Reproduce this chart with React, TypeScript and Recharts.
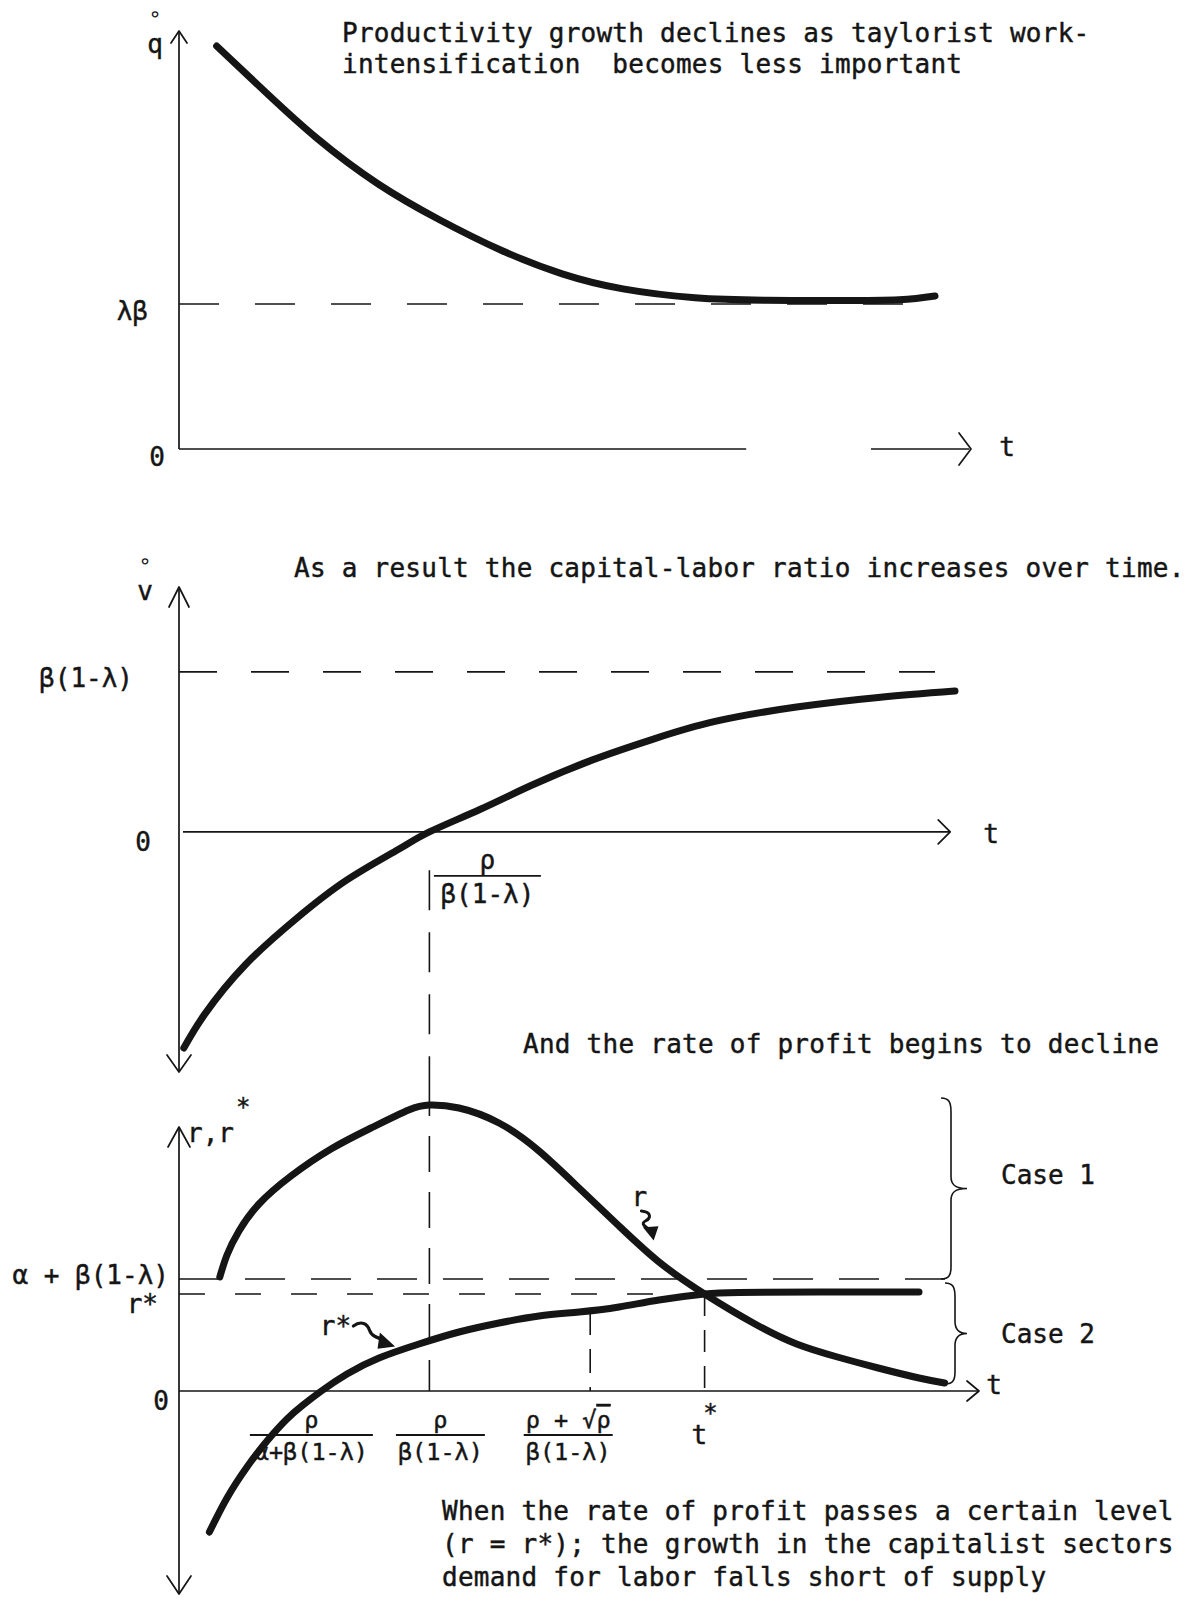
import React from 'react';
import { LineChart, Line, XAxis, YAxis, ReferenceLine, ReferenceDot, ReferenceArea } from 'recharts';

const FONT = '"DejaVu Sans Mono", "Liberation Mono", monospace';
const INK = '#151515';
const PAGE_W = 1192;
const PAGE_H = 1601;
const T_DOMAIN: [number, number] = [0, 10];

// ---------- Panel 1: productivity growth q̊ over time ----------
const qTime = [0.47, 1.08, 1.72, 2.49, 3.25, 4.02, 4.79, 5.55, 6.45, 7.34, 8.23, 9.0, 9.45];
const qGrowth = [9.64, 8.54, 7.44, 6.34, 5.49, 4.76, 4.19, 3.83, 3.62, 3.56, 3.55, 3.57, 3.66];
const LAMBDA_BETA = 3.47;
const qTickValues = [0, LAMBDA_BETA];
const qTickLabels = ['0', 'λβ'];

// ---------- Panel 2: growth of the capital-labor ratio v̊ ----------
const vTime = [0.06, 0.32, 0.83, 1.47, 2.1, 2.74, 3.13, 3.76, 4.4, 5.17, 5.93, 6.7, 7.72, 8.74, 9.7];
const vGrowth = [-1.35, -1.14, -0.83, -0.54, -0.3, -0.11, 0, 0.14, 0.29, 0.45, 0.58, 0.69, 0.78, 0.84, 0.88];
const BETA_ONE_MINUS_LAMBDA = 1;
const vTickValues = [0, BETA_ONE_MINUS_LAMBDA];
const vTickLabels = ['0', 'β(1-λ)'];

// ---------- Panel 3: rate of profit r and threshold r* ----------
const rTime = [0.51, 0.6, 0.75, 1.0, 1.4, 1.9, 2.4, 2.87, 3.13, 3.5, 4.0, 4.5, 5.0, 5.5, 6.0, 6.57, 7.2, 7.72, 8.23, 8.74, 9.25, 9.57];
const rValue = [1.14, 1.36, 1.6, 1.87, 2.15, 2.42, 2.63, 2.81, 2.86, 2.83, 2.68, 2.4, 2.03, 1.65, 1.29, 0.97, 0.67, 0.47, 0.34, 0.23, 0.13, 0.08];
const rStarTime = [0.38, 0.6, 0.85, 1.1, 1.35, 1.55, 1.78, 2.1, 2.5, 3.0, 3.5, 4.0, 4.5, 5.0, 5.5, 6.0, 6.57, 7.0, 8.0, 9.25];
const rStarValue = [-1.41, -1.07, -0.76, -0.5, -0.28, -0.14, 0, 0.17, 0.33, 0.47, 0.59, 0.68, 0.75, 0.79, 0.84, 0.91, 0.97, 0.985, 0.99, 0.99];
const ALPHA_PLUS_BETA = 1.12;
const R_STAR = 0.97;
const rTickValues = [0, R_STAR, ALPHA_PLUS_BETA];
const rTickLabels = ['0', 'r*', 'α + β(1-λ)'];
const CASE_ONE_TOP = 2.93;
const CASE_TWO_BOTTOM = 0.07;
const caseLabels = ['Case 1', 'Case 2'];

// Points on the time axis
const T_RSTAR_ZERO = 1.78; // ρ / (α + β(1-λ))
const T_RHO = 3.13; // ρ / β(1-λ)
const T_RHO_ROOT = 5.14; // (ρ + √ρ) / β(1-λ)
const T_STAR = 6.57; // t*

// ---------- Captions ----------
const topCaption = ['Productivity growth declines as taylorist work-', 'intensification  becomes less important'];
const middleCaption = ['As a result the capital-labor ratio increases over time.'];
const profitCaption = ['And the rate of profit begins to decline'];
const bottomCaption = [
  'When the rate of profit passes a certain level',
  '(r = r*); the growth in the capitalist sectors',
  'demand for labor falls short of supply',
];

type Pt = { t: number; y: number };
const zip = (ts: number[], ys: number[]): Pt[] => ts.map((t, i) => ({ t, y: ys[i] }));

const qData = zip(qTime, qGrowth);
const vData = zip(vTime, vGrowth);
const rData = zip(rTime, rValue);
const rStarData = zip(rStarTime, rStarValue);

// typewriter-like text: monospace with a slightly heavier stroke
const ink = { fontFamily: FONT, fill: INK, stroke: INK, strokeWidth: 0.45 };

// ---------- drawing helpers ----------
type TickLayout = Record<string, { gap: number; dy: number }>;

const makeTick = (values: number[], labels: string[], layout: TickLayout) => (props: any) => {
  const { x, y, payload } = props;
  const label = labels[values.indexOf(payload.value)];
  if (label === undefined) return <g />;
  const l = layout[label];
  return (
    <text x={x - l.gap} y={y + l.dy} textAnchor="end" dominantBaseline="central" fontSize={26} {...ink}>
      {label}
    </text>
  );
};

const chevron = (dir: 'up' | 'down' | 'right', w: number, h: number) => (p: any) => {
  const { cx, cy } = p;
  let d = '';
  if (dir === 'up') d = `M${cx - w},${cy + h} L${cx},${cy} L${cx + w},${cy + h}`;
  if (dir === 'down') d = `M${cx - w},${cy - h} L${cx},${cy} L${cx + w},${cy - h}`;
  if (dir === 'right') d = `M${cx - h},${cy - w} L${cx},${cy} L${cx - h},${cy + w}`;
  return <path d={d} fill="none" stroke={INK} strokeWidth={1.7} strokeLinejoin="round" strokeLinecap="round" />;
};

const textAt = (content: React.ReactNode, dx: number, dy: number, size = 26) => (p: any) => (
  <text x={p.cx + dx} y={p.cy + dy} textAnchor="middle" dominantBaseline="central" fontSize={size} {...ink}>
    {content}
  </text>
);

// Variable symbol with a small ring above it (growth rate notation)
const ringedSymbol = (sym: string, dx: number, dy: number) => (p: any) => (
  <g>
    <text x={p.cx + dx} y={p.cy + dy - 30} textAnchor="middle" dominantBaseline="central" fontSize={21} fontFamily={FONT} fill={INK}>
      ∘
    </text>
    <text x={p.cx + dx} y={p.cy + dy} textAnchor="middle" dominantBaseline="central" fontSize={26} {...ink}>
      {sym}
    </text>
  </g>
);

const fraction = (num: React.ReactNode, den: string, width: number, dx: number, dy: number, size: number) => (p: any) => {
  const cx = p.cx + dx;
  const cy = p.cy + dy;
  return (
    <g>
      <text x={cx} y={cy - 7} textAnchor="middle" fontSize={size} {...ink}>
        {num}
      </text>
      <line x1={cx - width / 2} x2={cx + width / 2} y1={cy} y2={cy} stroke={INK} strokeWidth={1.8} />
      <text x={cx} y={cy + size + 1} textAnchor="middle" fontSize={size} {...ink}>
        {den}
      </text>
    </g>
  );
};

const starred = (base: string, dx: number, dy: number) => (p: any) => (
  <text x={p.cx + dx} y={p.cy + dy} textAnchor="middle" dominantBaseline="central" fontSize={26} {...ink}>
    {base}
    <tspan dx={-4} dy={-22} fontSize={24}>
      *
    </tspan>
  </text>
);

// Hand-drawn squiggly pointer ending at the dot position
const pointerDown = (label: string) => (p: any) => {
  const { cx, cy } = p;
  return (
    <g>
      <text x={cx - 14} y={cy - 42} textAnchor="middle" dominantBaseline="central" fontSize={26} {...ink}>
        {label}
      </text>
      <path
        d={`M${cx - 12},${cy - 28} C${cx - 2},${cy - 27} ${cx - 2},${cy - 21} ${cx - 8},${cy - 18} C${cx - 14},${cy - 15} ${cx - 6},${cy - 11} ${cx - 3},${cy - 9}`}
        fill="none"
        stroke={INK}
        strokeWidth={3}
        strokeLinecap="round"
      />
      <path d={`M${cx - 9},${cy - 11} L${cx + 4},${cy - 12} L${cx},${cy} Z`} fill={INK} stroke={INK} strokeWidth={1.5} />
    </g>
  );
};

const pointerRight = (label: string) => (p: any) => {
  const { cx, cy } = p;
  return (
    <g>
      <text x={cx - 58} y={cy - 20} textAnchor="middle" dominantBaseline="central" fontSize={26} {...ink}>
        {label}
      </text>
      <path
        d={`M${cx - 40},${cy - 20} C${cx - 32},${cy - 26} ${cx - 26},${cy - 22} ${cx - 24},${cy - 16} C${cx - 22},${cy - 10} ${cx - 16},${cy - 8} ${cx - 9},${cy - 6}`}
        fill="none"
        stroke={INK}
        strokeWidth={3.2}
        strokeLinecap="round"
      />
      <path d={`M${cx - 13},${cy - 12} L${cx},${cy} L${cx - 15},${cy + 2} Z`} fill={INK} stroke={INK} strokeWidth={1.5} />
    </g>
  );
};

// Right curly brace spanning the area, with its case label
const brace = (label: string, labelDy: number) => (p: any) => {
  const { x, y, width, height } = p;
  const sx = x;
  const tx = x + width;
  const yt = y;
  const yb = y + height;
  const ym = y + height / 2;
  const d = [
    `M${sx - 10},${yt}`,
    `C${sx - 2},${yt} ${sx},${yt + 4} ${sx},${yt + 14}`,
    `L${sx},${ym - 12}`,
    `C${sx},${ym - 4} ${sx + 4},${ym} ${tx},${ym}`,
    `C${sx + 4},${ym} ${sx},${ym + 4} ${sx},${ym + 12}`,
    `L${sx},${yb - 12}`,
    `C${sx},${yb - 4} ${sx - 2},${yb} ${sx - 10},${yb}`,
  ].join(' ');
  return (
    <g>
      <path d={d} fill="none" stroke={INK} strokeWidth={1.6} />
      <text x={tx + 34} y={ym + labelDy} dominantBaseline="central" fontSize={26} {...ink}>
        {label}
      </text>
    </g>
  );
};

const axisStroke = { stroke: INK, strokeWidth: 1.7 };
const dashStroke = { stroke: INK, strokeWidth: 1.6 };
const curveProps = {
  type: 'natural' as const,
  dataKey: 'y',
  stroke: INK,
  strokeWidth: 7,
  dot: false,
  activeDot: false,
  strokeLinecap: 'round' as const,
  strokeLinejoin: 'round' as const,
  isAnimationActive: false,
};

const Caption = ({ lines, left, top, lineHeight }: { lines: string[]; left: number; top: number; lineHeight: number }) => (
  <div
    style={{
      position: 'absolute',
      left,
      top,
      fontFamily: FONT,
      fontSize: 26,
      letterSpacing: 0.25,
      lineHeight: `${lineHeight}px`,
      whiteSpace: 'pre',
      color: INK,
      WebkitTextStroke: `0.45px ${INK}`,
    }}
  >
    {lines.map((l) => (
      <div key={l}>{l}</div>
    ))}
  </div>
);

const qTick = makeTick(qTickValues, qTickLabels, { '0': { gap: 14, dy: 8 }, 'λβ': { gap: 31, dy: 7 } });
const vTick = makeTick(vTickValues, vTickLabels, { '0': { gap: 28, dy: 10 }, 'β(1-λ)': { gap: 46, dy: 6 } });
const rTick = makeTick(rTickValues, rTickLabels, {
  '0': { gap: 10, dy: 10 },
  'r*': { gap: 21, dy: 10 },
  'α + β(1-λ)': { gap: 10, dy: -4 },
});

const yAxisCommon = {
  type: 'number' as const,
  width: 179,
  axisLine: false,
  tickLine: false,
  tickSize: 0,
  tickMargin: 0,
  interval: 0 as const,
  allowDataOverflow: true,
};

export default function App() {
  return (
    <div style={{ position: 'absolute', left: 0, top: 0, width: PAGE_W, height: PAGE_H, background: '#fff', overflow: 'hidden' }}>
      {/* Panel 1 */}
      <div style={{ position: 'absolute', left: 0, top: 0 }}>
        <LineChart width={PAGE_W} height={520} margin={{ top: 31, right: 213, bottom: 71, left: 0 }}>
          <XAxis type="number" dataKey="t" domain={T_DOMAIN} hide allowDataOverflow />
          <YAxis {...yAxisCommon} domain={[0, 10]} ticks={qTickValues} tick={qTick} />
          <ReferenceLine segment={[{ x: 0, y: 0 }, { x: 0, y: 10 }]} {...axisStroke} ifOverflow="visible" />
          <ReferenceLine segment={[{ x: 0, y: 0 }, { x: 7.09, y: 0 }]} {...axisStroke} ifOverflow="visible" />
          <ReferenceLine segment={[{ x: 8.65, y: 0 }, { x: 9.88, y: 0 }]} {...axisStroke} ifOverflow="visible" />
          <ReferenceLine
            segment={[{ x: 0, y: LAMBDA_BETA }, { x: 9.45, y: LAMBDA_BETA }]}
            {...dashStroke}
            strokeDasharray="40 36"
            ifOverflow="visible"
          />
          <ReferenceDot x={0} y={10} r={0} shape={chevron('up', 8, 12)} ifOverflow="visible" />
          <ReferenceDot x={9.9} y={0} r={0} shape={chevron('right', 16, 12)} ifOverflow="visible" />
          <ReferenceDot x={9.9} y={0} r={0} shape={textAt('t', 36, -2)} ifOverflow="visible" />
          <ReferenceDot x={0} y={10} r={0} shape={ringedSymbol('q', -24, 13)} ifOverflow="visible" />
          <Line data={qData} {...curveProps} />
        </LineChart>
      </div>

      {/* Panel 2 */}
      <div style={{ position: 'absolute', left: 0, top: 520 }}>
        <LineChart width={PAGE_W} height={560} margin={{ top: 67, right: 213, bottom: 8, left: 0 }}>
          <XAxis type="number" dataKey="t" domain={T_DOMAIN} hide allowDataOverflow />
          <YAxis {...yAxisCommon} domain={[-1.5, 1.53]} ticks={vTickValues} tick={vTick} />
          <ReferenceLine segment={[{ x: 0, y: -1.5 }, { x: 0, y: 1.53 }]} {...axisStroke} ifOverflow="visible" />
          <ReferenceLine segment={[{ x: 0.05, y: 0 }, { x: 9.64, y: 0 }]} {...axisStroke} ifOverflow="visible" />
          <ReferenceLine
            segment={[{ x: 0, y: BETA_ONE_MINUS_LAMBDA }, { x: 9.45, y: BETA_ONE_MINUS_LAMBDA }]}
            {...dashStroke}
            strokeDasharray="38 34"
            ifOverflow="visible"
          />
          <ReferenceLine
            segment={[{ x: T_RHO, y: -0.24 }, { x: T_RHO, y: -1.55 }]}
            {...dashStroke}
            strokeDasharray="40 22"
            ifOverflow="visible"
          />
          <ReferenceDot x={0} y={1.53} r={0} shape={chevron('up', 10, 20)} ifOverflow="visible" />
          <ReferenceDot x={0} y={-1.5} r={0} shape={chevron('down', 12, 17)} ifOverflow="visible" />
          <ReferenceDot x={9.64} y={0} r={0} shape={chevron('right', 12, 12)} ifOverflow="visible" />
          <ReferenceDot x={9.64} y={0} r={0} shape={textAt('t', 41, 2)} ifOverflow="visible" />
          <ReferenceDot x={0} y={1.53} r={0} shape={ringedSymbol('v', -34, 4)} ifOverflow="visible" />
          <ReferenceDot x={T_RHO} y={0} r={0} shape={fraction('ρ', 'β(1-λ)', 107, 58, 44, 26)} ifOverflow="visible" />
          <Line data={vData} {...curveProps} />
        </LineChart>
      </div>

      {/* Panel 3 */}
      <div style={{ position: 'absolute', left: 0, top: 1080 }}>
        <LineChart width={PAGE_W} height={521} margin={{ top: 0, right: 213, bottom: 0, left: 0 }}>
          <XAxis type="number" dataKey="t" domain={T_DOMAIN} hide allowDataOverflow />
          <YAxis {...yAxisCommon} domain={[-2.1, 3.11]} ticks={rTickValues} tick={rTick} />
          <ReferenceLine segment={[{ x: 0, y: -2.02 }, { x: 0, y: 2.62 }]} {...axisStroke} ifOverflow="visible" />
          <ReferenceLine segment={[{ x: 0, y: 0 }, { x: 10.0, y: 0 }]} stroke={INK} strokeWidth={1.3} ifOverflow="visible" />
          <ReferenceLine
            segment={[{ x: 0, y: ALPHA_PLUS_BETA }, { x: 9.7, y: ALPHA_PLUS_BETA }]}
            {...dashStroke}
            strokeDasharray="40 26"
            ifOverflow="visible"
          />
          <ReferenceLine
            segment={[{ x: 0, y: R_STAR }, { x: 9.25, y: R_STAR }]}
            {...dashStroke}
            strokeDasharray="26 30"
            ifOverflow="visible"
          />
          <ReferenceLine
            segment={[{ x: T_RHO, y: 3.11 }, { x: T_RHO, y: 0 }]}
            {...dashStroke}
            strokeDasharray="36 20"
            ifOverflow="visible"
          />
          <ReferenceLine
            segment={[{ x: T_RHO_ROOT, y: 0.8 }, { x: T_RHO_ROOT, y: 0 }]}
            {...dashStroke}
            strokeDasharray="24 14"
            ifOverflow="visible"
          />
          <ReferenceLine
            segment={[{ x: T_STAR, y: R_STAR }, { x: T_STAR, y: 0 }]}
            {...dashStroke}
            strokeDasharray="22 14"
            ifOverflow="visible"
          />
          <ReferenceArea x1={9.65} x2={9.85} y1={ALPHA_PLUS_BETA} y2={CASE_ONE_TOP} shape={brace(caseLabels[0], -14)} ifOverflow="visible" />
          <ReferenceArea x1={9.7} x2={9.85} y1={CASE_TWO_BOTTOM} y2={ALPHA_PLUS_BETA - 0.04} shape={brace(caseLabels[1], 0)} ifOverflow="visible" />
          <ReferenceDot x={0} y={2.64} r={0} shape={chevron('up', 11, 20)} ifOverflow="visible" />
          <ReferenceDot x={0} y={-2.03} r={0} shape={chevron('down', 12, 18)} ifOverflow="visible" />
          <ReferenceDot x={10.0} y={0} r={0} shape={chevron('right', 10, 12)} ifOverflow="visible" />
          <ReferenceDot x={10.0} y={0} r={0} shape={textAt('t', 15, -6)} ifOverflow="visible" />
          <ReferenceDot
            x={0}
            y={2.64}
            r={0}
            shape={(p: any) => (
              <text x={p.cx + 8} y={p.cy + 6} dominantBaseline="central" fontSize={26} {...ink}>
                r,r
                <tspan dx={2} dy={-26} fontSize={24}>
                  *
                </tspan>
              </text>
            )}
            ifOverflow="visible"
          />
          <ReferenceDot x={T_RSTAR_ZERO} y={0} r={0} shape={fraction('ρ', 'α+β(1-λ)', 123, -10, 44, 23.5)} ifOverflow="visible" />
          <ReferenceDot x={T_RHO} y={0} r={0} shape={fraction('ρ', 'β(1-λ)', 89, 11, 44, 23.5)} ifOverflow="visible" />
          <ReferenceDot
            x={T_RHO_ROOT}
            y={0}
            r={0}
            shape={fraction(
              <>
                {'ρ + √'}
                <tspan style={{ textDecoration: 'overline' }}>ρ</tspan>
              </>,
              'β(1-λ)',
              89,
              -22,
              44,
              23.5,
            )}
            ifOverflow="visible"
          />
          <ReferenceDot x={T_STAR} y={0} r={0} shape={starred('t', 0, 44)} ifOverflow="visible" />
          <ReferenceDot x={5.93} y={1.52} r={0} shape={pointerDown('r')} ifOverflow="visible" />
          <ReferenceDot x={2.68} y={0.45} r={0} shape={pointerRight('r*')} ifOverflow="visible" />
          <Line data={rStarData} {...curveProps} />
          <Line data={rData} {...curveProps} />
        </LineChart>
      </div>

      <Caption lines={topCaption} left={342} top={18} lineHeight={31} />
      <Caption lines={middleCaption} left={294} top={553} lineHeight={31} />
      <Caption lines={profitCaption} left={523} top={1029} lineHeight={31} />
      <Caption lines={bottomCaption} left={442} top={1495} lineHeight={33} />
    </div>
  );
}
